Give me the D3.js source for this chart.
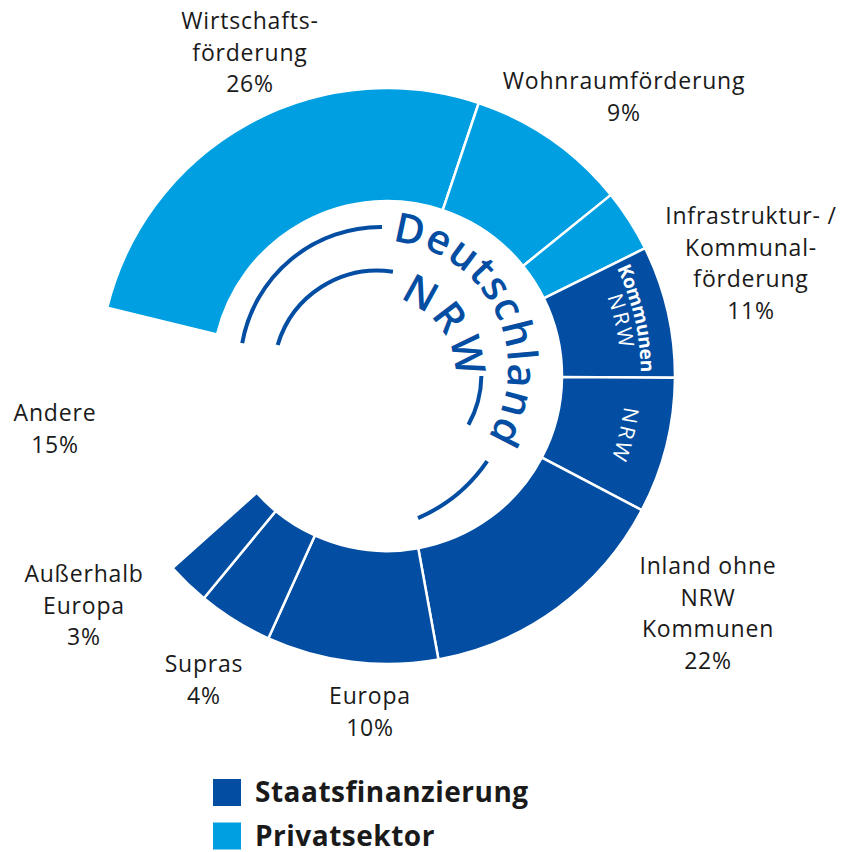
<!DOCTYPE html>
<html lang="de">
  <head>
    <meta charset="UTF-8" />
    <title>Portfolio nach Förderbereichen</title>
    <script src="https://cdnjs.cloudflare.com/ajax/libs/d3/7.8.5/d3.min.js"></script>
    <style>
      body { margin: 0; background: #fff; }
      svg text { font-family: "Open Sans", sans-serif; }
    </style>
  </head>
  <body>
    <div id="chart"></div>
    <script>
      // segments of the ring, clockwise from the left edge of Wirtschaftsförderung
      const segments = ["Wirtschaftsförderung", "Wohnraumförderung", "Infrastruktur privat", "Kommunen NRW", "NRW",
        "Inland ohne NRW Kommunen", "Europa", "Supras", "Außerhalb Europa", "Andere"];
      const shares = [26.3, 9.0, 3.5, 7.4, 7.6, 14.4, 9.6, 4.2, 2.4, 15.4];
      const sector = ["Privatsektor", "Privatsektor", "Privatsektor", "Staatsfinanzierung", "Staatsfinanzierung",
        "Staatsfinanzierung", "Staatsfinanzierung", "Staatsfinanzierung", "Staatsfinanzierung", null];

      // outer labels
      const labelLines = [
        ["Wirtschafts-", "förderung"],
        ["Wohnraumförderung"],
        ["Infrastruktur- /", "Kommunal-", "förderung"],
        ["Andere"],
        ["Außerhalb", "Europa"],
        ["Supras"],
        ["Europa"],
        ["Inland ohne", "NRW", "Kommunen"]
      ];
      const labelPercents = [26, 9, 11, 15, 3, 4, 10, 22];
      const legendItems = ["Staatsfinanzierung", "Privatsektor"];

      const width = 841, height = 852;
      const cx = 387, cy = 376, outerR = 288, innerR = 175;
      const deg = Math.PI / 180;
      const dark = "#034ea2", light = "#009fe1";
      const color = d3.scaleOrdinal().domain(legendItems).range([dark, light]);

      const svg = d3.select("#chart").append("svg")
        .attr("width", width).attr("height", height);

      const g = svg.append("g").attr("transform", `translate(${cx},${cy})`);

      const start = -76.3 * deg;
      const pie = d3.pie().sort(null).value(d => d)
        .startAngle(start).endAngle(start + 2 * Math.PI);
      const arcs = pie(shares);
      const arc = d3.arc().innerRadius(innerR).outerRadius(outerR);

      g.selectAll("path.seg")
        .data(arcs.filter((d, i) => sector[i]))
        .join("path")
        .attr("class", "seg")
        .attr("d", arc)
        .attr("fill", d => color(sector[d.index]))
        .attr("stroke", "#fff")
        .attr("stroke-width", 2.5);

      // labels written inside the dark segments
      function arcPath(ox, oy, r, a0, a1) {
        const p = d3.path();
        p.arc(ox, oy, r, a0 - Math.PI / 2, a1 - Math.PI / 2, a1 < a0);
        return p.toString();
      }
      const inner = [
        { seg: 3, text: "Kommunen", r: 261, size: 19, weight: 700, spacing: 0 },
        { seg: 3, text: "NRW", r: 242, size: 21, weight: 400, spacing: 3 },
        { seg: 4, text: "NRW", r: 247, size: 21, weight: 400, spacing: 3 }
      ];
      inner.forEach((t, i) => {
        const a = arcs[t.seg];
        svg.append("path").attr("id", "in" + i)
          .attr("d", arcPath(cx, cy, t.r, a.startAngle, a.endAngle))
          .attr("fill", "none");
        svg.append("text")
          .attr("fill", "#fff")
          .attr("font-size", t.size)
          .attr("font-weight", t.weight)
          .attr("letter-spacing", t.spacing)
          .attr("dominant-baseline", "central")
          .append("textPath")
          .attr("href", "#in" + i)
          .attr("startOffset", "50%")
          .attr("text-anchor", "middle")
          .text(t.text);
      });

      // Deutschland / NRW guide arcs
      const guides = [
        { ox: 381, oy: 368, r: 141, a0: -79.8, a1: 0.4 },
        { ox: 355, oy: 371, r: 160, a0: 124.3, a1: 156.8 },
        { ox: 377.4, oy: 374.5, r: 104, a0: -73.5, a1: 8.6 },
        { ox: 377.4, oy: 374.5, r: 104, a0: 90.8, a1: 118.9 }
      ];
      svg.selectAll("path.guide")
        .data(guides)
        .join("path")
        .attr("class", "guide")
        .attr("d", d => arcPath(d.ox, d.oy, d.r, d.a0 * deg, d.a1 * deg))
        .attr("fill", "none")
        .attr("stroke", dark)
        .attr("stroke-width", 4);

      const curved = [
        { id: "deu", text: "Deutschland", ox: 381, oy: 368, r: 127, a0: 5, size: 41, spacing: 1.2 },
        { id: "nrw", text: "NRW", ox: 377.4, oy: 374.5, r: 78, a0: 16, size: 41, spacing: 3 }
      ];
      curved.forEach(t => {
        svg.append("path").attr("id", t.id)
          .attr("d", arcPath(t.ox, t.oy, t.r, t.a0 * deg, (t.a0 + 200) * deg))
          .attr("fill", "none");
        svg.append("text")
          .attr("fill", dark)
          .attr("font-size", t.size)
          .attr("font-weight", 600)
          .attr("letter-spacing", t.spacing)
          .append("textPath")
          .attr("href", "#" + t.id)
          .text(t.text);
      });

      // outer labels
      const labelPos = [[250, 20], [624, 80], [751, 215], [55, 412], [84, 573], [204, 663], [370, 695], [708, 565]];
      const lineH = 31.5;
      labelLines.forEach((lines, i) => {
        const t = svg.append("text")
          .attr("text-anchor", "middle")
          .attr("font-size", 23)
          .attr("letter-spacing", 0.8)
          .attr("fill", "#1a1a1a");
        lines.concat([labelPercents[i] + "%"]).forEach((s, j) => {
          t.append("tspan")
            .attr("x", labelPos[i][0])
            .attr("y", labelPos[i][1] + j * lineH)
            .attr("dominant-baseline", "central")
            .text(s);
        });
      });

      // legend
      const legend = svg.append("g").attr("transform", "translate(213,779)");
      const item = legend.selectAll("g").data(legendItems).join("g")
        .attr("transform", (d, i) => `translate(0,${i * 43.5})`);
      item.append("rect").attr("width", 28).attr("height", 27).attr("fill", d => color(d));
      item.append("text")
        .attr("x", 42).attr("y", 23)
        .attr("font-size", 28).attr("font-weight", 700)
        .attr("letter-spacing", 0.5)
        .attr("fill", "#1a1a1a")
        .text(d => d);
    </script>
  </body>
</html>
